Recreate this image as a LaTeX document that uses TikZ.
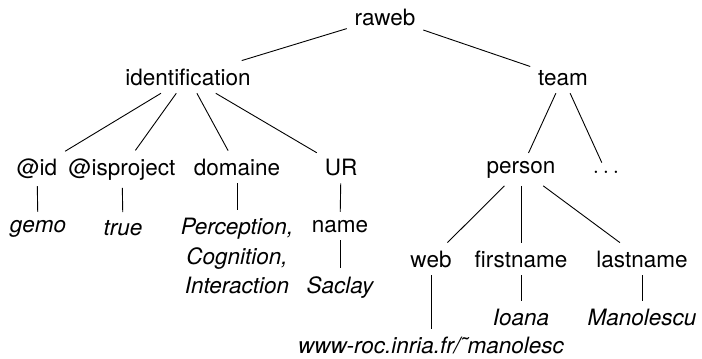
\documentclass[tikz,border=0pt]{standalone}
\usepackage{fontspec}
\setmainfont{TeX Gyre Heros}

\begin{document}
\begin{tikzpicture}[x=0.4444pt,y=-0.4444pt,
  every node/.style={anchor=base,font=\fontsize{10}{13.3}\selectfont},
  val/.style={font=\fontsize{10}{13.3}\selectfont\itshape}]
  \useasboundingbox (0,0) rectangle (702,358);
  % root and first level
  \node (raweb) at (385,25) {raweb};
  \node (ident) at (188,85) {identification};
  \node (team) at (563,85) {team};
  % second level
  \node (id) at (37,175) {@id};
  \node (isproj) at (122,175) {@isproject};
  \node (domaine) at (237,175) {domaine};
  \node (ur) at (341,175) {UR};
  \node (person) at (521,173) {person};
  \node (more) at (606,173) {$\ldots$};
  % values and leaves
  \node[val] (gemo) at (38,232) {gemo};
  \node[val] (true) at (123,235) {true};
  \node[val,anchor=center,align=center] (percep) at (237,256)
  {Perception,\\Cognition,\\Interaction};
  \node (name) at (340,232) {name};
  \node[val] (saclay) at (340,293) {Saclay};
  \node (web) at (431,267) {web};
  \node (first) at (521,267) {firstname};
  \node (last) at (642,267) {lastname};
  \node[val] (ioana) at (521,325) {Ioana};
  \node[val] (manol) at (642,325) {Manolescu};
  \node[val] (url) at (431,353) {www-roc.inria.fr/\symbol{"02DC}manolesc};
  % edges
  \draw (raweb) -- (ident);
  \draw (raweb) -- (team);
  \draw (ident) -- (id);
  \draw (ident) -- (isproj);
  \draw (ident) -- (domaine);
  \draw (ident) -- (ur);
  \draw (team) -- (person);
  \draw (team) -- (more);
  \draw (id) -- (gemo);
  \draw (isproj) -- (true);
  \draw (domaine) -- (percep);
  \draw (ur) -- (name);
  \draw (name) -- (saclay);
  \draw (person) -- (web);
  \draw (person) -- (first);
  \draw (person) -- (last);
  \draw (first) -- (ioana);
  \draw (last) -- (manol);
  \draw (web) -- (url);
\end{tikzpicture}
\end{document}
